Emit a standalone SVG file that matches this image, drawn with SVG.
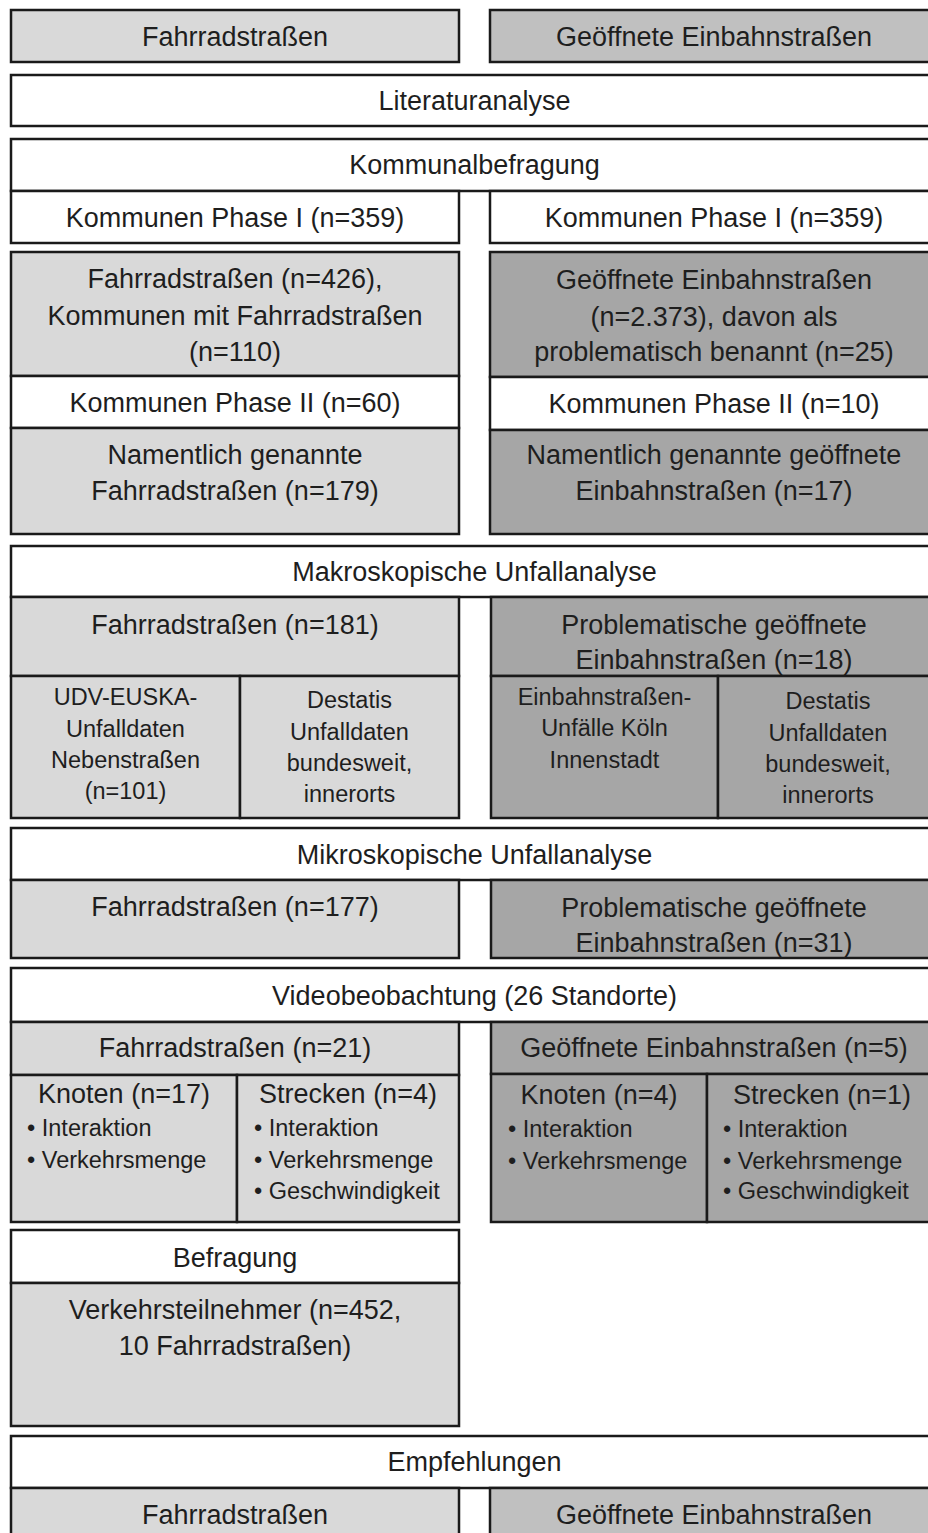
<svg xmlns="http://www.w3.org/2000/svg" width="928" height="1533" viewBox="0 0 928 1533">
<style>
.bx{stroke:#1a1a1a;stroke-width:2.5}
.w{fill:#ffffff}
.l{fill:#d9d9d9}
.m{fill:#c0c0c0}
.d{fill:#a6a6a6}
text{font-family:"Liberation Sans",Arial,sans-serif;fill:#1e1e1e}
.t{font-size:27px;text-anchor:middle}
.s{font-size:23.5px;text-anchor:middle}
.b{font-size:23.5px;text-anchor:start}
</style>
<rect width="928" height="1533" fill="#ffffff"/>
<g id="connectors"/>

<g id="top-fahrrad"><rect class="bx l" x="11" y="10" width="448" height="52"/><text class="t" x="235" y="46">Fahrradstraßen</text></g>
<g id="top-einbahn"><rect class="bx m" x="490" y="10" width="448" height="52"/><text class="t" x="714" y="46">Geöffnete Einbahnstraßen</text></g>

<g id="literatur"><rect class="bx w" x="11" y="75" width="927" height="51"/><text class="t" x="474.5" y="110">Literaturanalyse</text></g>

<g id="kommunal"><rect class="bx w" x="11" y="139" width="927" height="52"/><text class="t" x="474.5" y="174">Kommunalbefragung</text></g>
<g id="kommunen-phase1-left"><rect class="bx w" x="11" y="191" width="448" height="52"/><text class="t" x="235" y="227">Kommunen Phase I (n=359)</text></g>
<g id="kommunen-phase1-right"><rect class="bx w" x="490" y="191" width="448" height="52"/><text class="t" x="714" y="227">Kommunen Phase I (n=359)</text></g>

<g id="fahrrad-426"><rect class="bx l" x="11" y="252" width="448" height="124"/>
<text class="t" x="235" y="288">Fahrradstraßen (n=426),</text>
<text class="t" x="235" y="325">Kommunen mit Fahrradstraßen</text>
<text class="t" x="235" y="361">(n=110)</text></g>
<g id="einbahn-2373"><rect class="bx d" x="490" y="252" width="448" height="125"/>
<text class="t" x="714" y="289">Geöffnete Einbahnstraßen</text>
<text class="t" x="714" y="326">(n=2.373), davon als</text>
<text class="t" x="714" y="361">problematisch benannt (n=25)</text></g>
<g id="kommunen-phase2-left"><rect class="bx w" x="11" y="376" width="448" height="52"/><text class="t" x="235" y="412">Kommunen Phase II (n=60)</text></g>
<g id="kommunen-phase2-right"><rect class="bx w" x="490" y="377" width="448" height="53"/><text class="t" x="714" y="413">Kommunen Phase II (n=10)</text></g>
<g id="namentlich-left"><rect class="bx l" x="11" y="428" width="448" height="106"/>
<text class="t" x="235" y="464">Namentlich genannte</text>
<text class="t" x="235" y="500">Fahrradstraßen (n=179)</text></g>
<g id="namentlich-right"><rect class="bx d" x="490" y="430" width="448" height="104"/>
<text class="t" x="714" y="464">Namentlich genannte geöffnete</text>
<text class="t" x="714" y="500">Einbahnstraßen (n=17)</text></g>

<g id="makro"><rect class="bx w" x="11" y="546" width="927" height="51"/><text class="t" x="474.5" y="581">Makroskopische Unfallanalyse</text></g>
<g id="makro-fahrrad"><rect class="bx l" x="11" y="597" width="448" height="79"/><text class="t" x="235" y="634">Fahrradstraßen (n=181)</text></g>
<g id="makro-udv"><rect class="bx l" x="11" y="676" width="229" height="142"/>
<text class="s" x="125.5" y="705">UDV-EUSKA-</text>
<text class="s" x="125.5" y="737">Unfalldaten</text>
<text class="s" x="125.5" y="768">Nebenstraßen</text>
<text class="s" x="125.5" y="799">(n=101)</text></g>
<g id="makro-destatis-left"><rect class="bx l" x="240" y="676" width="219" height="142"/>
<text class="s" x="349.5" y="708">Destatis</text>
<text class="s" x="349.5" y="740">Unfalldaten</text>
<text class="s" x="349.5" y="771">bundesweit,</text>
<text class="s" x="349.5" y="802">innerorts</text></g>
<g id="makro-einbahn"><rect class="bx d" x="491" y="597" width="447" height="79"/>
<text class="t" x="714" y="634">Problematische geöffnete</text>
<text class="t" x="714" y="669">Einbahnstraßen (n=18)</text></g>
<g id="makro-koeln"><rect class="bx d" x="491" y="676" width="227" height="142"/>
<text class="s" x="604.5" y="705">Einbahnstraßen-</text>
<text class="s" x="604.5" y="736">Unfälle Köln</text>
<text class="s" x="604.5" y="768">Innenstadt</text></g>
<g id="makro-destatis-right"><rect class="bx d" x="718" y="676" width="220" height="142"/>
<text class="s" x="828" y="709">Destatis</text>
<text class="s" x="828" y="741">Unfalldaten</text>
<text class="s" x="828" y="772">bundesweit,</text>
<text class="s" x="828" y="803">innerorts</text></g>

<g id="mikro"><rect class="bx w" x="11" y="828" width="927" height="52"/><text class="t" x="474.5" y="864">Mikroskopische Unfallanalyse</text></g>
<g id="mikro-fahrrad"><rect class="bx l" x="11" y="880" width="448" height="78"/><text class="t" x="235" y="916">Fahrradstraßen (n=177)</text></g>
<g id="mikro-einbahn"><rect class="bx d" x="491" y="880" width="447" height="78"/>
<text class="t" x="714" y="917">Problematische geöffnete</text>
<text class="t" x="714" y="952">Einbahnstraßen (n=31)</text></g>

<g id="video"><rect class="bx w" x="11" y="968" width="927" height="54"/><text class="t" x="474.5" y="1005">Videobeobachtung (26 Standorte)</text></g>
<g id="video-fahrrad"><rect class="bx l" x="11" y="1022" width="448" height="53"/><text class="t" x="235" y="1057">Fahrradstraßen (n=21)</text></g>
<g id="video-fahrrad-knoten"><rect class="bx l" x="11" y="1075" width="226" height="147"/>
<text class="t" x="124" y="1103">Knoten (n=17)</text>
<text class="b" x="27" y="1136">• Interaktion</text>
<text class="b" x="27" y="1168">• Verkehrsmenge</text></g>
<g id="video-fahrrad-strecken"><rect class="bx l" x="237" y="1075" width="222" height="147"/>
<text class="t" x="348" y="1103">Strecken (n=4)</text>
<text class="b" x="254" y="1136">• Interaktion</text>
<text class="b" x="254" y="1168">• Verkehrsmenge</text>
<text class="b" x="254" y="1199">• Geschwindigkeit</text></g>
<g id="video-einbahn"><rect class="bx d" x="491" y="1022" width="447" height="52"/><text class="t" x="714" y="1057">Geöffnete Einbahnstraßen (n=5)</text></g>
<g id="video-einbahn-knoten"><rect class="bx d" x="491" y="1074" width="216" height="148"/>
<text class="t" x="599" y="1104">Knoten (n=4)</text>
<text class="b" x="508" y="1137">• Interaktion</text>
<text class="b" x="508" y="1169">• Verkehrsmenge</text></g>
<g id="video-einbahn-strecken"><rect class="bx d" x="707" y="1074" width="231" height="148"/>
<text class="t" x="822" y="1104">Strecken (n=1)</text>
<text class="b" x="723" y="1137">• Interaktion</text>
<text class="b" x="723" y="1169">• Verkehrsmenge</text>
<text class="b" x="723" y="1199">• Geschwindigkeit</text></g>

<g id="befragung"><rect class="bx w" x="11" y="1230" width="448" height="53"/><text class="t" x="235" y="1267">Befragung</text></g>
<g id="verkehrsteilnehmer"><rect class="bx l" x="11" y="1283" width="448" height="143"/>
<text class="t" x="235" y="1319">Verkehrsteilnehmer (n=452,</text>
<text class="t" x="235" y="1355">10 Fahrradstraßen)</text></g>

<g id="empfehlungen"><rect class="bx w" x="11" y="1436" width="927" height="52"/><text class="t" x="474.5" y="1471">Empfehlungen</text></g>
<g id="empf-fahrrad"><rect class="bx l" x="11" y="1488" width="448" height="60"/><text class="t" x="235" y="1524">Fahrradstraßen</text></g>
<g id="empf-einbahn"><rect class="bx m" x="490" y="1488" width="448" height="60"/><text class="t" x="714" y="1524">Geöffnete Einbahnstraßen</text></g>
</svg>
